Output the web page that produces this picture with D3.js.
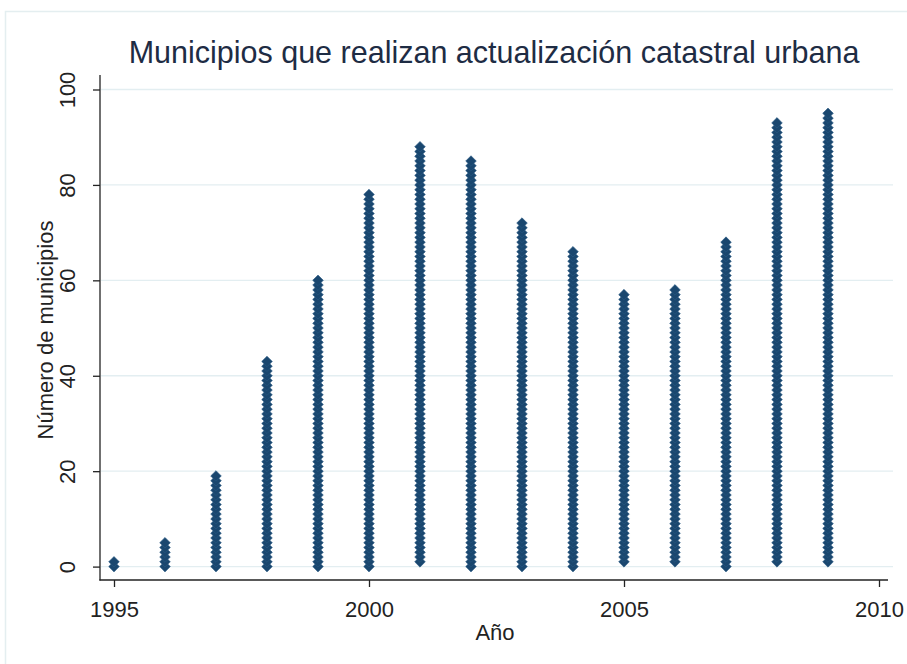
<!DOCTYPE html>
<html><head><meta charset="utf-8">
<script src="https://cdn.jsdelivr.net/npm/d3@7"></script>
<style>body{margin:0;background:#fff;} svg{display:block;}</style>
</head><body>
<svg id="c" width="907" height="664"></svg>
<script>
const years = [1995,1996,1997,1998,1999,2000,2001,2002,2003,2004,2005,2006,2007,2008,2009];
const startVals = [0,0,0,0,0,0,1,0,0,0,1,1,0,1,1];
const topVals = [1,5,19,43,60,78,88,85,72,66,57,58,68,93,95];
const xTicks = [1995,2000,2005,2010];
const yTicks = [0,20,40,60,80,100];
const titleText = "Municipios que realizan actualización catastral urbana";
const xLabel = "Año";
const yLabel = "Número de municipios";

const svg = d3.select("#c");
const font = "'Liberation Sans', Arial, sans-serif";
const x = d3.scaleLinear().domain([1995,2010]).range([114,879]);
const y = d3.scaleLinear().domain([0,100]).range([566.6,89.5]);

svg.append("rect").attr("x",5.5).attr("y",11.5).attr("width",905).attr("height",660)
  .attr("fill","none").attr("stroke","#e4eef0").attr("stroke-width",1.5);

// gridlines
svg.append("g").selectAll("line").data(yTicks).join("line")
  .attr("x1",101).attr("x2",893).attr("y1",d=>y(d)).attr("y2",d=>y(d))
  .attr("stroke","#e3eef1").attr("stroke-width",1.3);

// points
const pts = [];
years.forEach((yr,i)=>{ for(let v=startVals[i]; v<=topVals[i]; v++) pts.push({yr, v}); });
const diamond = "M0,-5.3L5.3,0L0,5.3L-5.3,0Z";
svg.append("g").selectAll("path").data(pts).join("path")
  .attr("d",diamond)
  .attr("transform",d=>`translate(${x(d.yr)},${y(d.v)})`)
  .attr("fill","#1a476f").attr("stroke","#2a5a85").attr("stroke-width",0.6);

// axes
const yAxis = d3.axisLeft(y).tickValues(yTicks).tickSize(7).tickPadding(0).tickFormat(d3.format("d"));
const gy = svg.append("g").attr("transform","translate(100,0)").call(yAxis);
gy.select(".domain").remove();
gy.selectAll(".tick line").attr("stroke","#222").attr("stroke-width",1.3);
gy.selectAll(".tick text").attr("font-family",font).attr("font-size",22).attr("fill","#222")
  .attr("text-anchor","middle").attr("dy",null)
  .attr("transform","translate(-25,0) rotate(-90)").attr("x",0).attr("y",0);
svg.append("line").attr("x1",100).attr("x2",100).attr("y1",75).attr("y2",580.5)
  .attr("stroke","#222").attr("stroke-width",1.3);

const xAxis = d3.axisBottom(x).tickValues(xTicks).tickSize(7).tickPadding(14).tickFormat(d3.format("d"));
const gx = svg.append("g").attr("transform","translate(0,580)").call(xAxis);
gx.select(".domain").remove();
gx.selectAll(".tick line").attr("stroke","#222").attr("stroke-width",1.3);
gx.selectAll(".tick text").attr("font-family",font).attr("font-size",22).attr("fill","#222");
svg.append("line").attr("x1",99.4).attr("x2",888).attr("y1",580).attr("y2",580)
  .attr("stroke","#222").attr("stroke-width",1.3);

// title
svg.append("text").attr("x",494).attr("y",63).attr("text-anchor","middle")
  .attr("font-family",font).attr("font-size",30.5).attr("fill","#1e2c44").text(titleText);

svg.append("text").attr("x",495).attr("y",640).attr("text-anchor","middle")
  .attr("font-family",font).attr("font-size",22).attr("fill","#222").text(xLabel);
svg.append("text").attr("transform","translate(53,330) rotate(-90)").attr("text-anchor","middle")
  .attr("font-family",font).attr("font-size",22).attr("fill","#222").text(yLabel);
</script>
</body></html>
